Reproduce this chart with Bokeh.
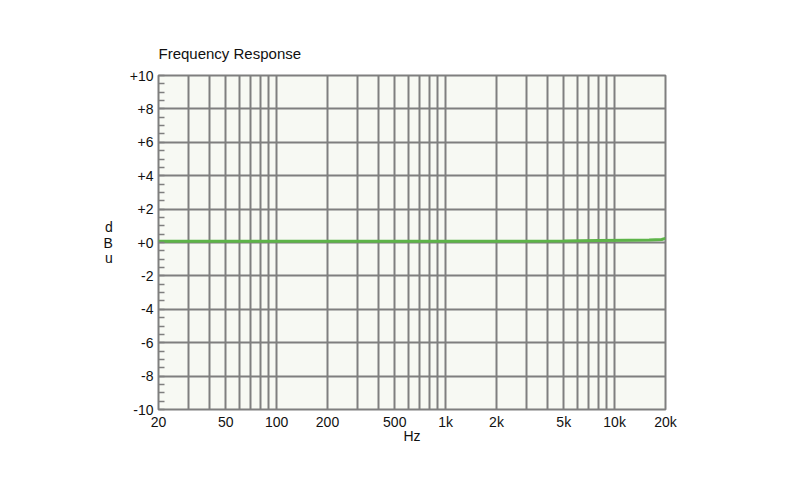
from bokeh.plotting import figure
from bokeh.models import FixedTicker, ColumnDataSource
from bokeh.embed import file_html
from bokeh.resources import INLINE

# ---- data ----
freq_hz = [20, 50, 100, 200, 500, 1000, 2000, 5000, 8000, 12000, 16000, 19000, 20000]
level_dbu = [0.08, 0.08, 0.08, 0.08, 0.08, 0.08, 0.08, 0.09, 0.12, 0.14, 0.15, 0.18, 0.25]

x_tick_values = [20, 50, 100, 200, 500, 1000, 2000, 5000, 10000, 20000]
x_tick_labels = ["20", "50", "100", "200", "500", "1k", "2k", "5k", "10k", "20k"]
x_grid_values = [30, 40, 50, 60, 70, 80, 90, 100,
                 200, 300, 400, 500, 600, 700, 800, 900, 1000,
                 2000, 3000, 4000, 5000, 6000, 7000, 8000, 9000, 10000]
y_tick_values = [-10, -8, -6, -4, -2, 0, 2, 4, 6, 8, 10]
y_tick_labels = ["-10", "-8", "-6", "-4", "-2", "+0", "+2", "+4", "+6", "+8", "+10"]

FONT = "Liberation Sans"
GRID = "#7f7f7f"

p = figure(width=784, height=484, x_axis_type="log",
           x_range=(20, 20000), y_range=(-10, 10),
           output_backend="svg", toolbar_location=None,
           min_border_left=158, min_border_right=119,
           min_border_top=75, min_border_bottom=75)

p.background_fill_color = "#f7f9f3"
p.border_fill_color = "white"
p.outline_line_color = GRID
p.outline_line_width = 2

# title
p.title.text = "Frequency Response"
p.title.text_font = FONT
p.title.text_font_size = "15px"
p.title.text_font_style = "normal"
p.title.text_color = "#111111"
p.title.standoff = 28
p.title.offset = 0

# x axis
xa = p.xaxis[0]
xa.ticker = FixedTicker(ticks=x_tick_values)
xa.major_label_overrides = {v: t for v, t in zip(x_tick_values, x_tick_labels)}
xa.major_tick_line_color = None
xa.major_tick_in = 0
xa.major_tick_out = 0
xa.minor_tick_line_color = None
xa.minor_tick_in = 0
xa.minor_tick_out = 0
xa.axis_line_color = None
xa.major_label_text_font = FONT
xa.major_label_text_font_size = "14px"
xa.major_label_text_color = "#111111"
xa.major_label_standoff = 4
xa.axis_label = "Hz"
xa.axis_label_text_font = FONT
xa.axis_label_text_font_size = "14px"
xa.axis_label_text_font_style = "normal"
xa.axis_label_text_color = "#111111"
xa.axis_label_standoff = -5

# y axis
ya = p.yaxis[0]
minor_vals = [v / 2 for v in range(-20, 21)]
ya.ticker = FixedTicker(ticks=y_tick_values, minor_ticks=minor_vals)
ya.major_label_overrides = {v: t for v, t in zip(y_tick_values, y_tick_labels)}
ya.axis_line_color = None
ya.major_tick_in = 0
ya.major_tick_out = 0
ya.minor_tick_in = 6
ya.minor_tick_out = 0
ya.minor_tick_line_color = GRID
ya.minor_tick_line_width = 1.5
ya.major_label_text_font = FONT
ya.major_label_text_font_size = "14px"
ya.major_label_text_color = "#111111"
ya.major_label_standoff = 5
ya.axis_label = "d\nB\nu"
ya.axis_label_orientation = "horizontal"
ya.axis_label_text_font = FONT
ya.axis_label_text_font_size = "14px"
ya.axis_label_text_font_style = "normal"
ya.axis_label_text_color = "#111111"
ya.axis_label_text_align = "center"
ya.axis_label_text_line_height = 0.95
ya.axis_label_standoff = 14

# grids
p.xgrid[0].ticker = FixedTicker(ticks=x_grid_values)
p.xgrid[0].grid_line_color = GRID
p.xgrid[0].grid_line_width = 2
p.ygrid[0].ticker = FixedTicker(ticks=y_tick_values)
p.ygrid[0].grid_line_color = GRID
p.ygrid[0].grid_line_width = 2

src = ColumnDataSource(dict(f=freq_hz, db=level_dbu))
p.line("f", "db", source=src, line_color="#5db448", line_width=3)

open("out.html", "w").write(file_html(p, INLINE))
